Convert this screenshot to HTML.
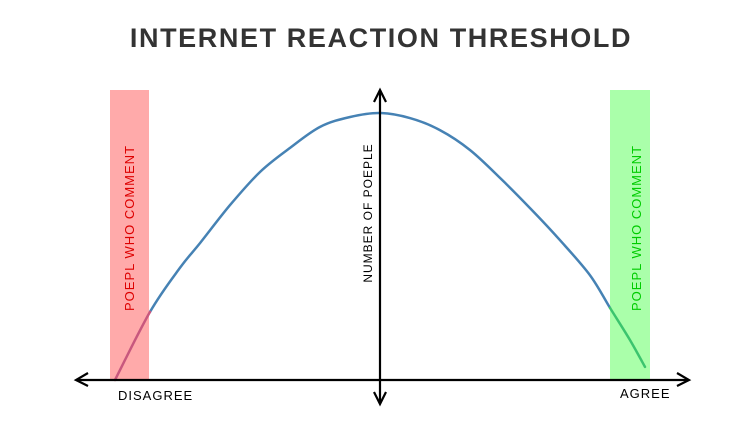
<!DOCTYPE html>
<html><head><meta charset="utf-8"><style>
body{margin:0;background:#fff;width:755px;height:424px;overflow:hidden}
svg text{font-family:"Liberation Sans",sans-serif}
</style></head><body>
<svg id="chart" width="755" height="424" viewBox="0 0 755 424" xmlns="http://www.w3.org/2000/svg">
<text x="381" y="47" text-anchor="middle" font-size="27" font-weight="bold" letter-spacing="1.6" fill="#333">INTERNET REACTION THRESHOLD</text>
<rect x="110" y="90" width="39" height="290" fill="#ffaaaa"/>
<rect x="610" y="90" width="40" height="290" fill="#aaffaa"/>
<text transform="translate(134,228) rotate(-90)" text-anchor="middle" font-size="13" letter-spacing="1" fill="#dd0000">POEPL WHO COMMENT</text>
<text transform="translate(641,228) rotate(-90)" text-anchor="middle" font-size="13" letter-spacing="1" fill="#00cc00">POEPL WHO COMMENT</text>
<g id="curve"></g>
<line x1="76" y1="380" x2="689" y2="380" stroke="#000" stroke-width="2.2"/>
<path d="M88,373 L76,380 L88,386" fill="none" stroke="#000" stroke-width="2.2"/>
<path d="M677,373 L689,380 L677,386" fill="none" stroke="#000" stroke-width="2.2"/>
<line x1="380" y1="90" x2="380" y2="404" stroke="#000" stroke-width="2.2"/>
<path d="M374,102 L380,90 L386,102" fill="none" stroke="#000" stroke-width="2.2"/>
<path d="M374,392 L380,404 L386,392" fill="none" stroke="#000" stroke-width="2.2"/>
<text transform="translate(372,213) rotate(-90)" text-anchor="middle" font-size="12" letter-spacing="1" fill="#000">NUMBER OF POEPLE</text>
<text x="118" y="400" font-size="13" letter-spacing="1" fill="#000">DISAGREE</text>
<text x="620" y="398" font-size="13" letter-spacing="1" fill="#000">AGREE</text>
</svg>
<script>
const opinions=[-1,-0.868,-0.755,-0.679,-0.566,-0.453,-0.34,-0.226,-0.113,0,0.113,0.226,0.34,0.453,0.566,0.679,0.792,0.868,0.943,1];
const people=[0,0.255,0.42,0.513,0.655,0.779,0.869,0.948,0.985,1,0.981,0.936,0.861,0.757,0.644,0.524,0.393,0.27,0.15,0.049];
const lowThreshold=-0.868, highThreshold=0.868;
function xs(v){return 380+v*265;}
function ys(v){return 380-v*267;}
const g=document.getElementById('curve');
const all=opinions.map((o,i)=>[xs(o),ys(people[i])]);
function smooth(idx){
  let d='M'+all[idx[0]][0].toFixed(1)+','+all[idx[0]][1].toFixed(1);
  for(let k=0;k<idx.length-1;k++){
    const i=idx[k],j=idx[k+1];
    const p0=all[Math.max(i-1,0)],p1=all[i],p2=all[j],p3=all[Math.min(j+1,all.length-1)];
    const c1=[p1[0]+(p2[0]-p0[0])/6,p1[1]+(p2[1]-p0[1])/6];
    const c2=[p2[0]-(p3[0]-p1[0])/6,p2[1]-(p3[1]-p1[1])/6];
    d+=' C'+c1[0].toFixed(1)+','+c1[1].toFixed(1)+' '+c2[0].toFixed(1)+','+c2[1].toFixed(1)+' '+p2[0].toFixed(1)+','+p2[1].toFixed(1);
  }
  return d;
}
function seg(filter,color,name){
  const idx=[];
  for(let i=0;i<opinions.length;i++){if(filter(opinions[i]))idx.push(i);}
  const p=document.createElementNS('http://www.w3.org/2000/svg','path');
  p.setAttribute('d',smooth(idx));
  p.setAttribute('fill','none');p.setAttribute('stroke',color);p.setAttribute('stroke-width','2.5');p.setAttribute('stroke-linejoin','round');p.setAttribute('stroke-linecap','round');
  
  
  g.appendChild(p);
}
seg(v=>v>=lowThreshold&&v<=highThreshold,'#4682b4','curve-middle');
seg(v=>v<=lowThreshold,'#c8587e','curve-disagree-commenters');
seg(v=>v>=highThreshold,'#3cc46e','curve-agree-commenters');
</script>
</body></html>
